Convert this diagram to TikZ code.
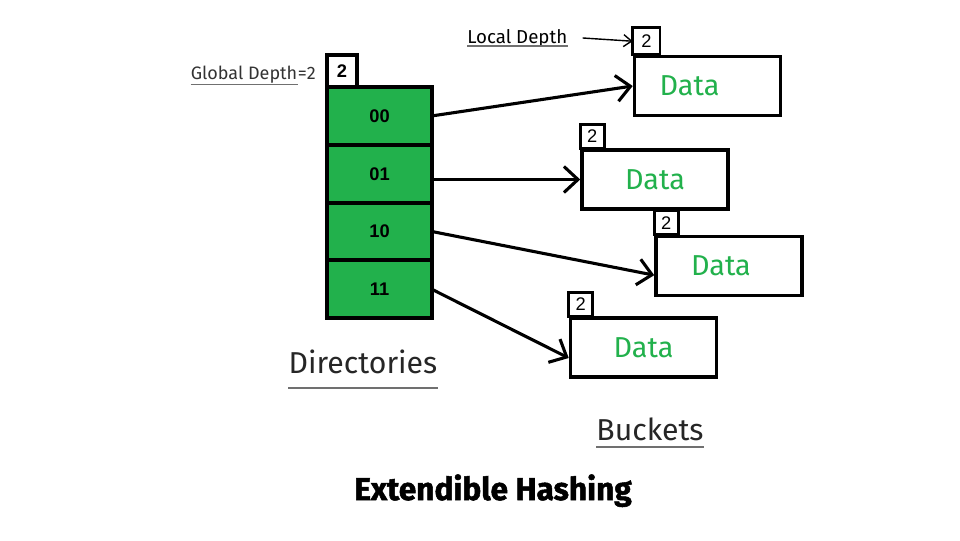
\documentclass[tikz,border=0pt]{standalone}
\usepackage{fontspec}
\setmainfont{Fira Sans}
\newfontfamily\arialfont{Liberation Sans}
\newfontfamily\heavyfont[BoldFeatures={FakeBold=1.6}]{Fira Sans}
\usepackage{tikz}
\usetikzlibrary{arrows.meta, positioning}
\definecolor{dirgreen}{HTML}{22B14C}
\definecolor{ulgray}{HTML}{707070}

\begin{document}
\begin{tikzpicture}[
    x=0.025cm, y=-0.025cm,
    every node/.style={inner sep=0pt},
    cell/.style={draw, line width=2.8pt, outer sep=0pt, fill=dirgreen,
                 minimum width=2.625cm, minimum height=1.445cm,
                 font=\arialfont\bfseries\fontsize{13}{15}\selectfont},
    bucket/.style={draw, line width=2.5pt, fill=white, minimum width=3.65cm,
                   minimum height=1.47cm, text=dirgreen,
                   font=\fontsize{20.5}{24}\selectfont},
    depthbox/.style={draw, line width=2pt, outer sep=0pt, anchor=south west,
                     minimum size=0.6cm, font=\arialfont\fontsize{13}{15}\selectfont},
    link/.style={-{Straight Barb[length=3.5mm,width=6.5mm]}, line width=2.2pt,
                 line cap=round, line join=round},
    uline/.style={draw=ulgray, line width=1pt},
    lbl/.style={font=\fontsize{21.5}{25}\selectfont, text=black!85},
  ]
    \useasboundingbox (0,0) rectangle (960,540);

    % 目录（左列）
    \node[cell] (c00) at (379.5,115.9) {00};
    \node[cell, below=0pt of c00] (c01) {01};
    \node[cell, below=0pt of c01] (c10) {10};
    \node[cell, below=0pt of c10] (c11) {11};
    \node[depthbox, line width=2.5pt, minimum width=0.75cm, minimum height=0.8cm,
          font=\arialfont\bfseries\fontsize{13}{15}\selectfont] (gd) at (c00.north west) {2};

    % 全局深度
    \node[anchor=base east, font=\fontsize{12.8}{15}\selectfont, text=black!80] (gdeq) at (316,79) {=2};
    \node[anchor=base east, font=\fontsize{12.8}{15}\selectfont, text=black!80] (gdl) at (gdeq.base west) {Global Depth};
    \draw[uline] ([yshift=-0.13cm]gdl.base west) -- ([yshift=-0.13cm]gdl.base east);

    % 桶（右列）
    \node[bucket] (b1) at (707.5,86)   {\hspace{-0.9cm}Data};
    \node[bucket] (b2) at (655,179.5)  {Data};
    \node[bucket] (b3) at (729,266)    {\hspace{-0.4cm}Data};
    \node[bucket] (b4) at (643.5,347.5) {Data};
    \node[depthbox, minimum size=0.68cm] (d1) at (b1.north west) {2};
    \node[depthbox] (d2) at (b2.north west) {2};
    \node[depthbox] (d3) at (b3.north west) {2};
    \node[depthbox] (d4) at (b4.north west) {2};

    % 局部深度
    \node[anchor=base west, font=\fontsize{13.3}{15}\selectfont] (ld) at (467,43) {Local Depth};
    \draw[uline] ([yshift=-0.08cm]ld.base west) -- ([yshift=-0.08cm]ld.base east);
    \draw[-{Straight Barb[length=2mm,width=3mm]}, line width=1pt]
      ([xshift=0.375cm]ld.east) -- (d1.west);

    % 箭头
    \draw[link] (c00.east) -- (b1.west);
    \draw[link] (c01.east |- b2.west) -- (b2.west);
    \draw[link] (c10.east) -- (b3.187);
    \draw[link] (c11.east) -- (b4.188);

    % 说明文字
    \node[lbl, anchor=base] (dirs) at (363,373) {Directories};
    \draw[uline] ([yshift=-0.375cm]dirs.base west) -- ([yshift=-0.375cm]dirs.base east);
    \node[lbl, anchor=base] (bkts) at (650,440) {Buckets};
    \draw[uline] ([yshift=-0.175cm]bkts.base west) -- ([yshift=-0.175cm]bkts.base east);
    \node[anchor=base, font=\heavyfont\bfseries\fontsize{22.5}{26}\selectfont] (title) at (493,500) {Extendible Hashing};
  \end{tikzpicture}
\end{document}
